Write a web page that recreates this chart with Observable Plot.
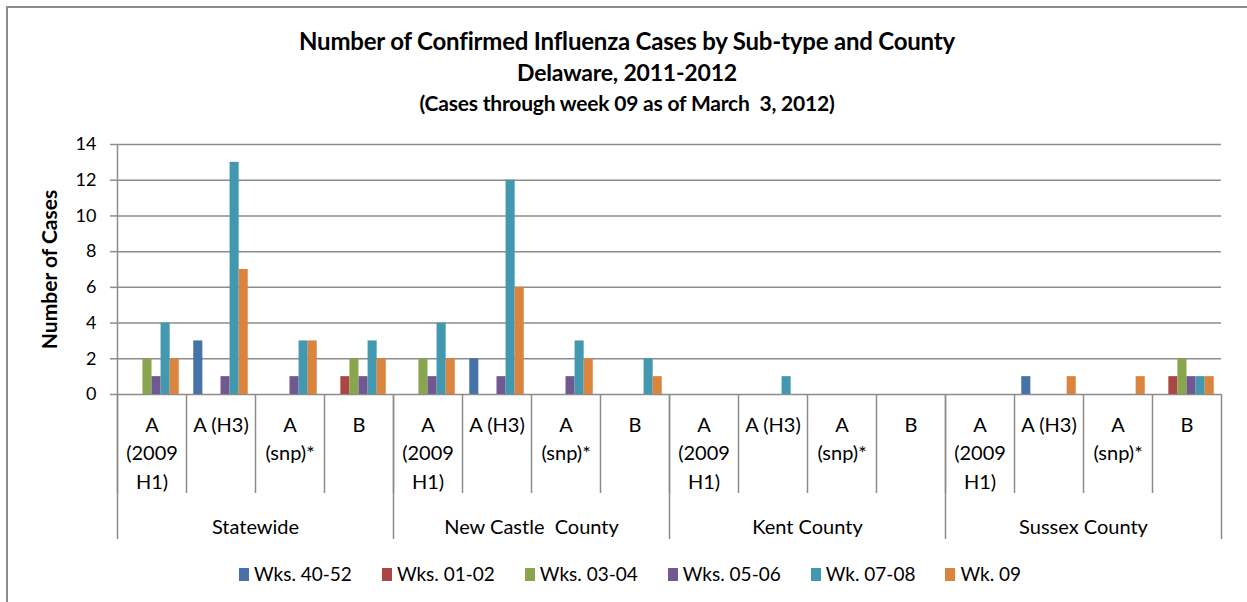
<!DOCTYPE html>
<html><head><meta charset="utf-8">
<script src="https://cdn.jsdelivr.net/npm/d3@7"></script>
<script src="https://cdn.jsdelivr.net/npm/@observablehq/plot@0.6"></script>
<style>
html,body{margin:0;padding:0;background:#fff;overflow:hidden;}
#wrap{position:relative;width:1247px;height:602px;font-family:Lato, sans-serif;color:#000;overflow:hidden;}
#border{position:absolute;left:6px;top:6px;width:1400px;height:800px;border-left:2px solid #8c8c8c;border-top:2px solid #8c8c8c;}
.t{position:absolute;left:6px;width:1242px;text-align:center;font-weight:bold;white-space:pre;letter-spacing:-0.2px;}
#t1{top:27px;font-size:24px;line-height:28px;}
#t2{top:58px;font-size:23px;line-height:28px;}
#t3{top:90px;font-size:21px;line-height:26px;}
#chart{position:absolute;left:0;top:120px;}
#legend{position:absolute;top:562px;left:0;width:1260px;display:flex;justify-content:center;align-items:center;font-size:19px;line-height:24px;}
.li{display:flex;align-items:center;margin-right:30px;}
.li:last-child{margin-right:0;}
.sw{width:10px;height:13px;margin-right:5px;}
</style>
</head><body>
<div id="wrap">
  <div id="border"></div>
  <div class="t" id="t1"></div>
  <div class="t" id="t2"></div>
  <div class="t" id="t3"></div>
  <div id="chart"></div>
  <div id="legend"></div>
</div>
<script>
const titleLines = ["Number of Confirmed Influenza Cases by Sub-type and County", "Delaware, 2011-2012", "(Cases through week 09 as of March  3, 2012)"];
const yLabel = "Number of Cases";
const counties = ["Statewide", "New Castle  County", "Kent County", "Sussex County"];
const subtypes = ["A (2009 H1)", "A (H3)", "A (snp)*", "B"];
const subtypeLabels = ["A\n(2009\nH1)", "A (H3)", "A\n(snp)*", "B"];
const series = ["Wks. 40-52", "Wks. 01-02", "Wks. 03-04", "Wks. 05-06", "Wk. 07-08", "Wk. 09"];
const colors = ["#4572a7", "#aa4643", "#89a54e", "#71588f", "#4198af", "#db843d"];
// values per sub-type, in series order
const statewide = [[0,0,2,1,4,2],[3,0,0,1,13,7],[0,0,0,1,3,3],[0,1,2,1,3,2]];
const newCastle = [[0,0,2,1,4,2],[2,0,0,1,12,6],[0,0,0,1,3,2],[0,0,0,0,2,1]];
const kent      = [[0,0,0,0,0,0],[0,0,0,0,1,0],[0,0,0,0,0,0],[0,0,0,0,0,0]];
const sussex    = [[0,0,0,0,0,0],[1,0,0,0,0,1],[0,0,0,0,0,1],[0,1,2,1,1,1]];
const yTicks = [0, 2, 4, 6, 8, 10, 12, 14];

const countyValues = [statewide, newCastle, kent, sussex];
const categories = [];
counties.forEach((c, ci) => subtypes.forEach((s, si) => categories.push({key: c + "|" + s, county: c, ci, si, label: subtypeLabels[si]})));
const keys = categories.map(d => d.key);
const data = [];
categories.forEach(cat => countyValues[cat.ci][cat.si].forEach((v, k) => data.push({key: cat.key, series: series[k], k, value: v})));
const countyFirst = categories.filter(d => d.si === 0).map(d => d.key);
const countyMid = categories.filter(d => d.si === 1).map(d => ({key: d.key, county: d.county}));

const XLO = -0.8, XHI = 6.8;
const gridStroke = "#8c8c8c";

document.getElementById("t1").textContent = titleLines[0];
document.getElementById("t2").textContent = titleLines[1];
document.getElementById("t3").textContent = titleLines[2];

const chart = Plot.plot({
  width: 1247, height: 430,
  marginTop: 24, marginBottom: 156, marginLeft: 115, marginRight: 24,
  style: {fontFamily: "Lato, sans-serif", color: "#000", background: "transparent", overflow: "visible"},
  fx: {domain: keys, padding: 0, axis: null},
  x: {domain: [XLO, XHI], axis: null},
  y: {domain: [0, 14], axis: null},
  color: {domain: series, range: colors},
  marks: [
    Plot.ruleY(yTicks, {y: d => d, stroke: gridStroke, strokeWidth: 1.5}),
    Plot.rectY(data.filter(d => d.value > 0), {fx: "key", x1: "k", x2: d => d.k + 1, y: "value", fill: "series"}),
    Plot.axisY({ticks: yTicks, tickSize: 7, tickPadding: 14, fontSize: 18, stroke: gridStroke, strokeWidth: 1.5, label: null}),
    Plot.ruleX([keys[0]], {fx: d => d, x: XLO, stroke: gridStroke, strokeWidth: 1.5}),
    Plot.ruleX(keys, {fx: d => d, x: XLO, y1: 0, y2: 0, insetBottom: -99, stroke: gridStroke, strokeWidth: 1.5}),
    Plot.ruleX(countyFirst, {fx: d => d, x: XLO, y1: 0, y2: 0, insetBottom: -145, stroke: gridStroke, strokeWidth: 1.5}),
    Plot.ruleX([keys[keys.length - 1]], {fx: d => d, x: XHI, y1: 0, y2: 0, insetBottom: -145, stroke: gridStroke, strokeWidth: 1.5}),
    Plot.text(categories, {fx: "key", text: "label", frameAnchor: "bottom", lineAnchor: "top", textAnchor: "middle", dy: 17, fontSize: 20, lineHeight: 1.43}),
    Plot.text(countyMid, {fx: "key", text: "county", frameAnchor: "bottom-right", textAnchor: "middle", lineAnchor: "middle", dy: 133, fontSize: 20}),
    Plot.text([yLabel], {fx: () => keys[0], text: d => d, frameAnchor: "left", dx: -67, rotate: -90, textAnchor: "middle", lineAnchor: "middle", fontWeight: "bold", fontSize: 21})
  ]
});
document.getElementById("chart").appendChild(chart);

const legend = document.getElementById("legend");
series.forEach((s, i) => {
  const item = document.createElement("div");
  item.className = "li";
  const sw = document.createElement("div");
  sw.className = "sw";
  sw.style.background = colors[i];
  const tx = document.createElement("span");
  tx.textContent = s;
  item.appendChild(sw); item.appendChild(tx);
  legend.appendChild(item);
});
</script>
</body></html>
